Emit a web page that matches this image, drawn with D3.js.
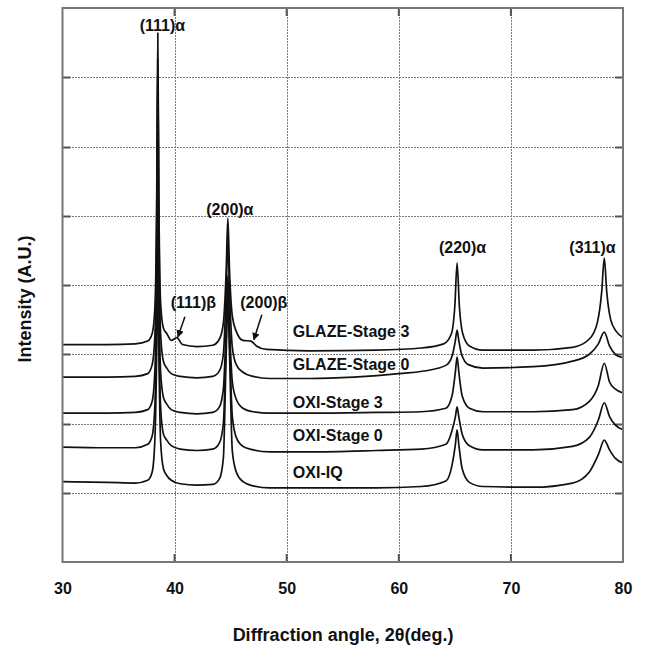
<!DOCTYPE html>
<html>
<head>
<meta charset="utf-8">
<script src="https://cdn.jsdelivr.net/npm/d3@7"></script>
<style>
  body { margin: 0; background: #fff; }
  text { font-family: Arial, "Liberation Sans", sans-serif; font-weight: bold; fill: #111; }
</style>
</head>
<body>
<div id="chart"></div>
<script>
// 2theta ticks and gridlines
const xTicks = [30, 40, 50, 60, 70, 80];
const yGrid = [1, 2, 3, 4, 5, 6, 7];

// patterns: [2theta, intensity (grid units)]
const glaze3 = [[30,3.14],[34,3.14],[36.5,3.15],[37.6,3.19],[38.0,3.3],[38.25,3.7],[38.4,5.2],[38.5,7.64],[38.6,5.2],[38.75,3.75],[39.0,3.38],[39.3,3.3],[39.7,3.2],[40.2,3.24],[40.7,3.14],[42,3.11],[43.4,3.13],[44.0,3.22],[44.35,3.45],[44.6,4.2],[44.75,4.97],[44.9,4.2],[45.15,3.55],[45.5,3.33],[46.1,3.2],[46.8,3.19],[47.3,3.12],[48.2,3.07],[52,3.05],[58,3.06],[62,3.09],[64.0,3.15],[64.7,3.3],[65.0,3.7],[65.2,4.32],[65.4,3.7],[65.7,3.3],[66.3,3.12],[67.5,3.06],[72,3.06],[75.5,3.1],[77.0,3.22],[77.7,3.45],[78.1,3.9],[78.33,4.39],[78.55,3.9],[78.9,3.5],[79.4,3.33],[80,3.24]];
const glaze0 = [[30,2.67],[34,2.67],[36.5,2.68],[37.6,2.72],[38.0,2.85],[38.25,3.3],[38.4,4.9],[38.5,7.26],[38.6,4.9],[38.75,3.3],[39.0,2.9],[39.3,2.8],[39.7,2.72],[40.5,2.68],[42,2.66],[43.4,2.68],[44.0,2.76],[44.35,3.0],[44.6,3.9],[44.75,4.65],[44.9,3.9],[45.15,3.1],[45.5,2.85],[46.1,2.74],[47,2.68],[48.5,2.65],[52,2.65],[56,2.67],[60,2.72],[63,2.78],[64.3,2.85],[64.8,3.0],[65.05,3.2],[65.2,3.35],[65.35,3.2],[65.6,3.0],[66.2,2.85],[67.5,2.8],[72,2.82],[75.5,2.9],[77.0,3.0],[77.8,3.15],[78.33,3.32],[78.8,3.12],[79.3,3.0],[80,2.95]];
const oxi3 = [[30,2.15],[34,2.15],[36.5,2.16],[37.6,2.2],[38.0,2.32],[38.25,2.8],[38.4,4.0],[38.5,5.95],[38.6,4.0],[38.75,2.75],[39.0,2.38],[39.3,2.28],[39.7,2.2],[40.5,2.16],[42,2.14],[43.4,2.16],[44.0,2.24],[44.35,2.5],[44.6,3.4],[44.75,4.14],[44.9,3.4],[45.15,2.6],[45.5,2.35],[46.1,2.22],[47,2.17],[48.5,2.15],[52,2.15],[58,2.16],[62,2.17],[64.2,2.22],[64.75,2.4],[65.05,2.75],[65.2,2.96],[65.35,2.75],[65.65,2.4],[66.3,2.22],[67.5,2.17],[72,2.17],[75.5,2.2],[77.0,2.32],[77.8,2.55],[78.33,2.87],[78.8,2.6],[79.3,2.5],[80,2.44]];
const oxi0 = [[30,1.66],[34,1.65],[36.5,1.65],[37.6,1.7],[38.0,1.82],[38.25,2.3],[38.4,3.5],[38.5,5.23],[38.6,3.5],[38.75,2.25],[39.0,1.85],[39.3,1.76],[39.7,1.68],[40.5,1.63],[42,1.61],[43.4,1.63],[44.0,1.72],[44.35,2.0],[44.6,3.2],[44.75,3.93],[44.9,3.2],[45.15,2.1],[45.5,1.8],[46.1,1.67],[47,1.62],[48.5,1.59],[52,1.59],[58,1.61],[62,1.63],[64.2,1.7],[64.75,1.9],[65.05,2.1],[65.2,2.24],[65.35,2.1],[65.65,1.85],[66.3,1.68],[67.5,1.62],[72,1.62],[75.5,1.67],[77.0,1.8],[77.8,2.05],[78.33,2.3],[78.8,2.1],[79.3,1.98],[80,1.91]];
const oxiIQ = [[30,1.16],[34,1.15],[36.5,1.14],[37.6,1.18],[38.0,1.3],[38.25,1.8],[38.4,3.0],[38.5,4.36],[38.6,3.0],[38.75,1.75],[39.0,1.35],[39.3,1.25],[39.7,1.18],[40.5,1.13],[42,1.11],[43.4,1.12],[44.0,1.2],[44.35,1.5],[44.6,3.0],[44.75,3.78],[44.9,3.0],[45.15,1.6],[45.5,1.3],[46.1,1.16],[47,1.1],[48.5,1.07],[52,1.07],[58,1.07],[62,1.09],[64.2,1.17],[64.75,1.4],[65.05,1.7],[65.2,1.91],[65.35,1.7],[65.65,1.35],[66.3,1.15],[67.5,1.09],[72,1.08],[75.5,1.14],[77.0,1.3],[77.8,1.55],[78.33,1.76],[78.8,1.62],[79.3,1.5],[80,1.43]];

const seriesNames = ["GLAZE-Stage 3", "GLAZE-Stage 0", "OXI-Stage 3", "OXI-Stage 0", "OXI-IQ"];
const seriesData = [glaze3, glaze0, oxi3, oxi0, oxiIQ];
const seriesLabelPos = [[50.55, 3.25], [50.55, 2.77], [50.55, 2.22], [50.55, 1.75], [50.55, 1.21]];

// peak annotations
const peakLabels = ["(111)α", "(200)α", "(220)α", "(311)α", "(111)β", "(200)β"];
const peakLabelPos = [[38.91, 7.67], [44.93, 5.01], [65.69, 4.46], [77.28, 4.46], [41.67, 3.67], [47.96, 3.67]];
const arrows = [[[40.92, 3.54], [40.29, 3.25]], [[47.78, 3.57], [47.07, 3.21]]];

const width = 646, height = 648;
const svg = d3.select("#chart").append("svg")
    .attr("width", width)
    .attr("height", height);

const x = d3.scaleLinear().domain([30, 80]).range([62.5, 623]);
const y = d3.scaleLinear().domain([0, 8]).range([562, 8]);
const px = v => Math.round(v) + 0.5;

svg.append("defs").append("marker")
    .attr("id", "arrow")
    .attr("viewBox", "0 0 10 10")
    .attr("refX", 9).attr("refY", 5)
    .attr("markerWidth", 5).attr("markerHeight", 5)
    .attr("orient", "auto")
  .append("path")
    .attr("d", "M0,0L10,5L0,10z")
    .attr("fill", "#111");

// Gridlines (dotted, snapped to whole pixels)
const grid = svg.append("g")
    .attr("stroke", "#7a7a7a")
    .attr("stroke-dasharray", "2,1");
grid.selectAll("line.vx")
  .data(xTicks.slice(1, -1))
  .join("line")
    .attr("class", "vx")
    .attr("x1", d => px(x(d))).attr("x2", d => px(x(d)))
    .attr("y1", 8).attr("y2", 562);
grid.selectAll("line.hy")
  .data(yGrid)
  .join("line")
    .attr("class", "hy")
    .attr("x1", 63).attr("x2", 623)
    .attr("y1", d => px(y(d))).attr("y2", d => px(y(d)))
    .attr("stroke-width", 1.2);

// inner ticks on all four sides
const ticks = svg.append("g").attr("stroke", "#555").attr("stroke-width", 2);
xTicks.slice(1, -1).forEach(t => {
  ticks.append("line").attr("x1", x(t)).attr("x2", x(t)).attr("y1", y(0)).attr("y2", y(0) - 8);
  ticks.append("line").attr("x1", x(t)).attr("x2", x(t)).attr("y1", y(8)).attr("y2", y(8) + 8);
});
yGrid.forEach(t => {
  ticks.append("line").attr("x1", x(30)).attr("x2", x(30) + 8).attr("y1", px(y(t))).attr("y2", px(y(t)));
  ticks.append("line").attr("x1", x(80)).attr("x2", x(80) - 8).attr("y1", px(y(t))).attr("y2", px(y(t)));
});

// patterns
const line = d3.line()
    .x(d => x(d[0]))
    .y(d => y(d[1]))
    .curve(d3.curveMonotoneX);
svg.append("g")
  .selectAll("path")
  .data(seriesData)
  .join("path")
    .attr("d", line)
    .attr("fill", "none")
    .attr("stroke", "#111")
    .attr("stroke-width", 1.7)
    .attr("stroke-linejoin", "round");

// frame
svg.append("rect")
    .attr("x", x(30)).attr("y", y(8))
    .attr("width", x(80) - x(30)).attr("height", y(0) - y(8))
    .attr("fill", "none").attr("stroke", "#777").attr("stroke-width", 2);

// x axis labels
const xAxis = svg.append("g")
    .attr("transform", `translate(0,${y(0)})`)
    .call(d3.axisBottom(x).tickValues(xTicks).tickSize(0).tickPadding(21));
xAxis.select(".domain").remove();
xAxis.selectAll("text")
    .attr("font-size", 16)
    .attr("font-family", "Arial, 'Liberation Sans', sans-serif")
    .attr("font-weight", "bold")
    .attr("fill", "#111");

svg.append("text")
    .attr("x", 343).attr("y", 641)
    .attr("text-anchor", "middle")
    .attr("font-size", 18)
    .text("Diffraction angle, 2θ(deg.)");

svg.append("text")
    .attr("transform", "translate(31,299) rotate(-90)")
    .attr("text-anchor", "middle")
    .attr("font-size", 18)
    .text("Intensity (A.U.)");

// series names
svg.append("g")
  .selectAll("text")
  .data(seriesNames)
  .join("text")
    .attr("x", (d, i) => x(seriesLabelPos[i][0]))
    .attr("y", (d, i) => y(seriesLabelPos[i][1]))
    .attr("font-size", 16)
    .text(d => d);

// peak names
svg.append("g")
  .selectAll("text")
  .data(peakLabels)
  .join("text")
    .attr("x", (d, i) => x(peakLabelPos[i][0]))
    .attr("y", (d, i) => y(peakLabelPos[i][1]))
    .attr("text-anchor", "middle")
    .attr("font-size", 16)
    .text(d => d);

svg.append("g")
  .selectAll("line")
  .data(arrows)
  .join("line")
    .attr("x1", d => x(d[0][0])).attr("y1", d => y(d[0][1]))
    .attr("x2", d => x(d[1][0])).attr("y2", d => y(d[1][1]))
    .attr("stroke", "#111").attr("stroke-width", 1.5)
    .attr("marker-end", "url(#arrow)");
</script>
</body>
</html>
